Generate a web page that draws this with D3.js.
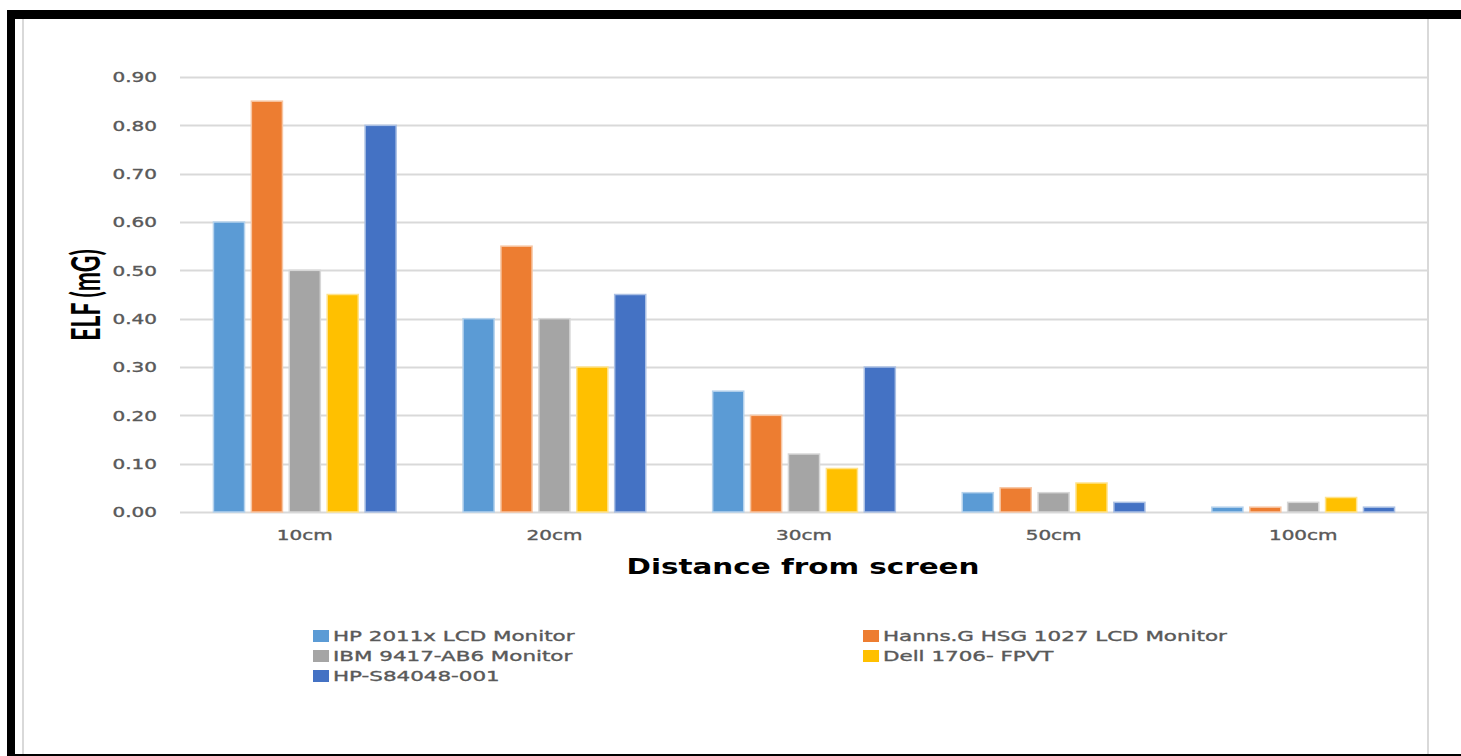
<!DOCTYPE html>
<html>
<head>
<meta charset="utf-8">
<script src="https://cdn.jsdelivr.net/npm/d3@7"></script>
<style>
  html, body { margin: 0; padding: 0; background: #fff; }
  svg { display: block; }
</style>
</head>
<body>
<svg id="chart" width="1461" height="756"></svg>
<script>
// ELF readings (mG) by distance from screen, one series per monitor
const distances = ["10cm", "20cm", "30cm", "50cm", "100cm"];
const monitors = [
  "HP 2011x LCD Monitor",
  "Hanns.G HSG 1027 LCD Monitor",
  "IBM 9417-AB6 Monitor",
  "Dell 1706- FPVT",
  "HP-S84048-001"
];
const hp2011x   = [0.60, 0.40, 0.25, 0.04, 0.01];
const hannsG    = [0.85, 0.55, 0.20, 0.05, 0.01];
const ibm9417   = [0.50, 0.40, 0.12, 0.04, 0.02];
const dell1706  = [0.45, 0.30, 0.09, 0.06, 0.03];
const hpS84048  = [0.80, 0.45, 0.30, 0.02, 0.01];
const seriesValues = [hp2011x, hannsG, ibm9417, dell1706, hpS84048];
const yTicks = [0, 0.1, 0.2, 0.3, 0.4, 0.5, 0.6, 0.7, 0.8, 0.9];
const colors = ["#5B9BD5", "#ED7D31", "#A5A5A5", "#FFC000", "#4472C4"];

const svg = d3.select("#chart");
const W = 1461, H = 756;
const plot = { left: 180, right: 1428, top: 77, bottom: 512 };
const STRETCH = 1.48;   // wide glyph rendering used throughout the figure

// widen a text selection horizontally by a factor
function stretch(sel, k) {
  sel.each(function () {
    const len = this.getComputedTextLength();
    d3.select(this).attr("textLength", len * k).attr("lengthAdjust", "spacingAndGlyphs");
  });
}

// outer frame
svg.append("rect").attr("x", 0).attr("y", 0).attr("width", W).attr("height", H).attr("fill", "#fff");
svg.append("rect").attr("x", 7).attr("y", 10).attr("width", W - 7).attr("height", 9).attr("fill", "#000");
svg.append("rect").attr("x", 7).attr("y", 10).attr("width", 8).attr("height", H - 10).attr("fill", "#000");
svg.append("rect").attr("x", 7).attr("y", 754).attr("width", W - 7).attr("height", 2).attr("fill", "#000");
svg.append("rect").attr("x", 22).attr("y", 19).attr("width", 2).attr("height", 735).attr("fill", "#d9d9d9");
svg.append("rect").attr("x", 1427).attr("y", 19).attr("width", 2).attr("height", 735).attr("fill", "#d9d9d9");

// scales
const x0 = d3.scaleBand().domain(distances).range([plot.left, plot.right]).padding(0);
const bw = x0.bandwidth();
const x1 = d3.scaleBand().domain(monitors).range([bw * 0.134, bw * 0.866]).paddingInner(0.18);
const y = d3.scaleLinear().domain([0, 0.9]).range([plot.bottom, plot.top]);

// horizontal gridlines
svg.append("g")
  .selectAll("line")
  .data(yTicks)
  .join("line")
  .attr("x1", plot.left).attr("x2", plot.right)
  .attr("y1", d => Math.round(y(d)) + 0.5).attr("y2", d => Math.round(y(d)) + 0.5)
  .attr("stroke", "#d9d9d9").attr("stroke-width", 2);

// shared style for the small grey labels
function labelStyle(sel, size) {
  sel.attr("font-family", "DejaVu Sans, Verdana, sans-serif")
    .attr("font-size", size)
    .attr("fill", "#595959")
    .attr("stroke", "#595959")
    .attr("stroke-width", 0.35);
}

// y axis tick labels
const yAxis = d3.axisLeft(y).tickValues(yTicks).tickFormat(d3.format(".2f")).tickSize(0).tickPadding(0);
const yg = svg.append("g").attr("transform", `translate(157,0)`).call(yAxis);
yg.select(".domain").remove();
yg.selectAll("text")
  .call(labelStyle, 13.5)
  .attr("dy", "0.36em")
  .call(stretch, STRETCH);

// bars
const groups = svg.append("g")
  .selectAll("g")
  .data(distances)
  .join("g")
  .attr("transform", d => `translate(${x0(d)},0)`);

groups.selectAll("rect")
  .data((d, i) => monitors.map((m, j) => ({ monitor: m, value: seriesValues[j][i], color: colors[j] })))
  .join("rect")
  .attr("x", d => x1(d.monitor))
  .attr("width", x1.bandwidth())
  .attr("y", d => y(d.value))
  .attr("height", d => y(0) - y(d.value))
  .attr("fill", d => d.color)
  .attr("stroke", d => d3.interpolateRgb(d.color, "#fff")(0.55))
  .attr("stroke-width", 1.5);

// x axis labels
const xAxis = d3.axisBottom(x0).tickSize(0).tickPadding(0);
const xg = svg.append("g").attr("transform", `translate(0,${plot.bottom})`).call(xAxis);
xg.select(".domain").remove();
xg.selectAll("text")
  .call(labelStyle, 13.5)
  .attr("y", 28)
  .attr("dy", 0)
  .call(stretch, STRETCH);

// axis titles
svg.append("text")
  .attr("x", 803).attr("y", 574)
  .attr("text-anchor", "middle")
  .attr("font-family", "DejaVu Sans, Verdana, sans-serif")
  .attr("font-weight", "bold")
  .attr("font-size", 21)
  .attr("fill", "#000")
  .text("Distance from screen")
  .call(stretch, 1.4);

svg.append("text")
  .attr("transform", "translate(86,295) scale(1.75,1) rotate(-90)")
  .attr("text-anchor", "middle")
  .attr("font-family", "Lato, Open Sans, sans-serif")
  .attr("font-weight", "bold")
  .attr("font-size", 23)
  .attr("fill", "#000")
  .attr("dy", "0.35em")
  .text("ELF (mG)");

// legend: two columns
const legendPos = [
  { x: 313, y: 636 }, { x: 863, y: 636 },
  { x: 313, y: 656 }, { x: 863, y: 656 },
  { x: 313, y: 676 }
];
const legend = svg.append("g")
  .selectAll("g")
  .data(monitors)
  .join("g")
  .attr("transform", (d, i) => `translate(${legendPos[i].x},${legendPos[i].y})`);
legend.append("rect")
  .attr("x", 0).attr("y", -6).attr("width", 16).attr("height", 12)
  .attr("fill", (d, i) => colors[i]);
legend.append("text")
  .attr("x", 20).attr("dy", "0.36em")
  .call(labelStyle, 14)
  .text(d => d)
  .call(stretch, 1.53);
</script>
</body>
</html>
